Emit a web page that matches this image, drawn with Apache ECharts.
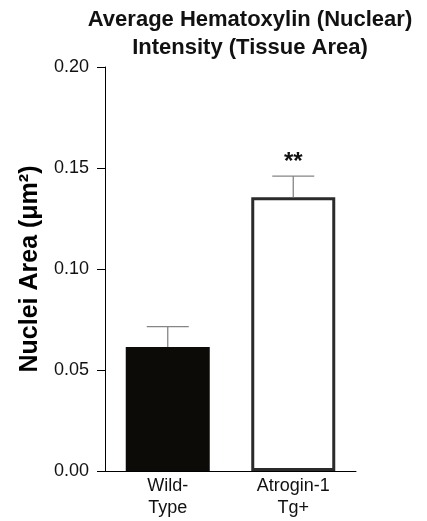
<!DOCTYPE html>
<html>
<head>
<meta charset="utf-8">
<script src="https://cdn.jsdelivr.net/npm/echarts@6/dist/echarts.min.js"></script>
<style>
  html, body { margin: 0; padding: 0; background: #fff; }
  #chart { width: 427px; height: 521px; }
</style>
</head>
<body>
<div id="chart"></div>
<script>
var groups = ['Wild-\nType', 'Atrogin-1\nTg+'];
var means = [0.0614, 0.1355];
var errors = [0.0101, 0.0105];
var sigMarks = ['', '**'];
var yTicks = [0, 0.05, 0.10, 0.15, 0.20];

var FONT = '"Liberation Sans", Arial, sans-serif';

var chart = echarts.init(document.getElementById('chart'));

var option = {
    animation: false,
    backgroundColor: '#fff',
    graphic: [{
        type: 'text',
        x: 250,
        y: 6,
        style: {
            text: 'Average Hematoxylin (Nuclear)\nIntensity (Tissue Area)',
            font: 'bold 22px ' + FONT,
            fill: '#111',
            align: 'center',
            verticalAlign: 'top',
            lineHeight: 28
        }
    }],
    grid: {
        left: 105,
        top: 67,
        width: 251,
        height: 404,
        containLabel: false
    },
    xAxis: {
        type: 'category',
        data: groups,
        axisLine: { lineStyle: { color: '#000', width: 1 } },
        axisTick: { alignWithLabel: true, length: 7, lineStyle: { color: '#000' } },
        axisLabel: {
            color: '#111',
            fontFamily: FONT,
            fontSize: 18,
            lineHeight: 22,
            margin: 4,
            interval: 0
        }
    },
    yAxis: {
        type: 'value',
        min: yTicks[0],
        max: yTicks[yTicks.length - 1],
        interval: 0.05,
        name: 'Nuclei Area (\u03bcm\u00b2)',
        nameLocation: 'middle',
        nameGap: 58,
        nameTextStyle: {
            color: '#000',
            fontFamily: FONT,
            fontWeight: 'bold',
            fontSize: 25
        },
        axisLine: { show: true, lineStyle: { color: '#000', width: 1 } },
        axisTick: { show: true, length: 8, lineStyle: { color: '#000' } },
        splitLine: { show: false },
        axisLabel: {
            color: '#111',
            fontFamily: FONT,
            fontSize: 18,
            margin: 16,
            formatter: function (v) { return v.toFixed(2); }
        }
    },
    series: [
        {
            type: 'bar',
            barWidth: 84,
            data: [
                { value: means[0], itemStyle: { color: '#0d0b08' } },
                { value: means[1], itemStyle: { color: '#fff', borderColor: '#2b2b2b', borderWidth: 3 } }
            ],
            z: 2
        },
        {
            type: 'custom',
            z: 3,
            data: means.map(function (m, i) { return [i, m, m + errors[i]]; }),
            renderItem: function (params, api) {
                var base = api.coord([api.value(0), api.value(1)]);
                var top = api.coord([api.value(0), api.value(2)]);
                var half = 21;
                var children = [
                    {
                        type: 'line',
                        shape: { x1: base[0], y1: base[1], x2: top[0], y2: top[1] },
                        style: { stroke: '#858585', lineWidth: 1.3 }
                    },
                    {
                        type: 'line',
                        shape: { x1: top[0] - half, y1: top[1], x2: top[0] + half, y2: top[1] },
                        style: { stroke: '#858585', lineWidth: 1.3 }
                    }
                ];
                var mark = sigMarks[params.dataIndex];
                if (mark) {
                    children.push({
                        type: 'text',
                        style: {
                            text: mark,
                            x: top[0],
                            y: top[1] - 26,
                            align: 'center',
                            verticalAlign: 'top',
                            font: 'bold 24px ' + FONT,
                            fill: '#111'
                        }
                    });
                }
                return { type: 'group', children: children };
            }
        }
    ]
};

chart.setOption(option);
</script>
</body>
</html>
